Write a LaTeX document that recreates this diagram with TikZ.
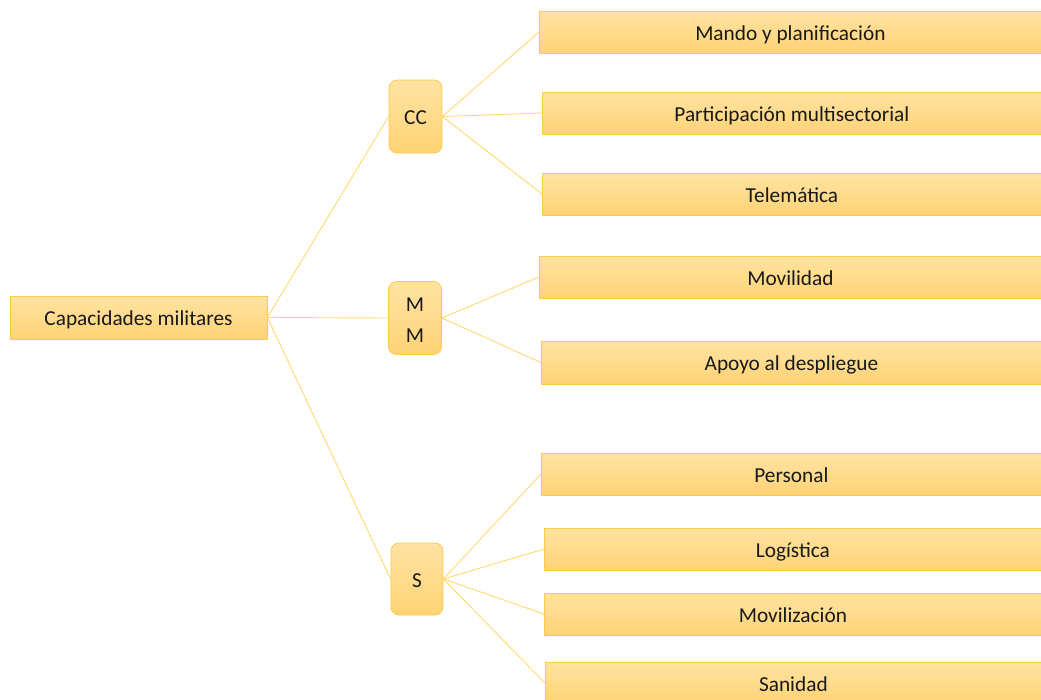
\documentclass[tikz,border=0pt]{standalone}
\usepackage{fontspec}
\setmainfont{Carlito}
\begin{document}
\begin{tikzpicture}[x=1pt,y=-1pt,
  box/.style={draw=boxborder,line width=0.8pt,top color=boxtop,bottom color=boxbot,inner sep=0pt,font=\fontsize{21.3}{25}\selectfont,text=black!90},
  one/.style={text height=16pt,text depth=0pt},
  leaf/.style={box,one,minimum height=42pt,anchor=west},
  mid/.style={box,rounded corners=8pt,minimum width=53pt,minimum height=73pt,align=center},
  link/.style={draw=linkcol,line width=0.9pt}]
\definecolor{boxtop}{HTML}{FFE3A3}
\definecolor{boxbot}{HTML}{FFD375}
\definecolor{boxborder}{HTML}{FFCB47}
\definecolor{linkcol}{HTML}{FFD970}
\useasboundingbox (0,0) rectangle (1041,699);
\node[box,one,minimum width=257pt,minimum height=43pt] (root) at (138.5,317.5) {Capacidades militares};
\node[mid,one] (cc) at (415.5,116.5) {CC};
\node[mid,font=\fontsize{21.3}{31}\selectfont] (mm) at (415,318) {\rule{0pt}{17pt}M\\M};
\node[mid,one,minimum width=52pt,minimum height=72pt] (s) at (417,579) {S};
\node[leaf,minimum width=502pt] (l1) at (539,32) {Mando y planificación};
\node[leaf,minimum width=499pt] (l2) at (542,113) {Participación multisectorial};
\node[leaf,minimum width=499pt] (l3) at (542,194) {Telemática};
\node[leaf,minimum width=502pt] (l4) at (539,277) {Movilidad};
\node[leaf,minimum width=500pt,minimum height=43pt] (l5) at (541,362.5) {Apoyo al despliegue};
\node[leaf,minimum width=500pt] (l6) at (541,474) {Personal};
\node[leaf,minimum width=497pt] (l7) at (544,549) {Logística};
\node[leaf,minimum width=497pt] (l8) at (544,614) {Movilización};
\node[leaf,minimum width=496pt] (l9) at (545,683) {Sanidad};
\foreach \c in {cc,mm,s} \draw[link] (root.east) -- (\c.west);
\foreach \l in {l1,l2,l3} \draw[link] (cc.east) -- (\l.west);
\foreach \l in {l4,l5} \draw[link] (mm.east) -- (\l.west);
\foreach \l in {l6,l7,l8,l9} \draw[link] (s.east) -- (\l.west);
\end{tikzpicture}
\end{document}
